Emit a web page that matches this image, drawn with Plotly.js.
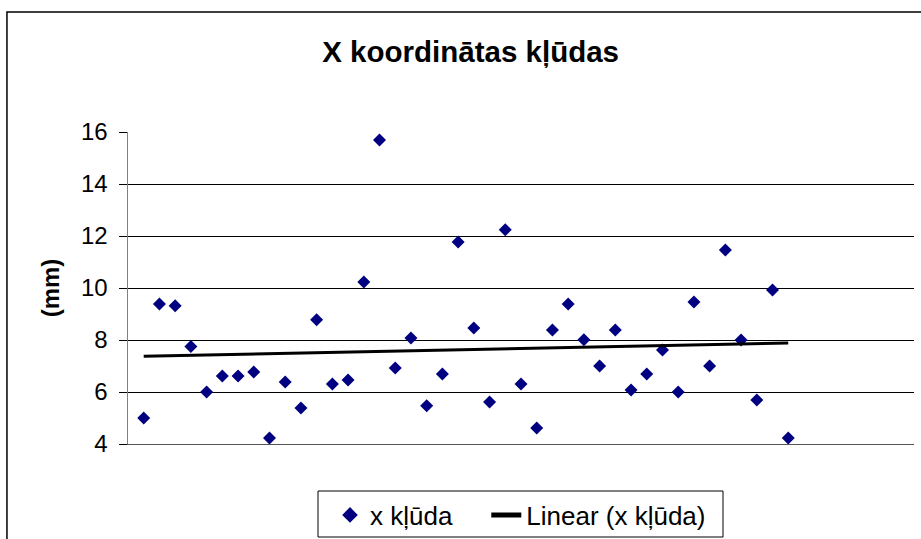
<!DOCTYPE html>
<html>
<head>
<meta charset="utf-8">
<script src="https://cdn.plot.ly/plotly-3.0.1.min.js"></script>
<style>html,body{margin:0;padding:0;background:#fff;}#chart{width:921px;height:539px;}</style>
</head>
<body>
<div id="chart"></div>
<script>
// Measurement index (1..42) and X coordinate error values (mm)
const pointIndex = [1,2,3,4,5,6,7,8,9,10,11,12,13,14,15,16,17,18,19,20,21,22,23,24,25,26,27,28,29,30,31,32,33,34,35,36,37,38,39,40,41,42];
const xErrors = [5.00,9.38,9.32,7.75,6.00,6.62,6.62,6.77,4.23,6.38,5.38,8.78,6.31,6.46,10.23,15.69,6.92,8.08,5.47,6.69,11.77,8.46,5.62,12.24,6.31,4.62,8.38,9.38,8.01,7.00,8.38,6.08,6.69,7.62,6.00,9.46,7.00,11.46,8.00,5.69,9.92,4.23];
const yTickVals = [4,6,8,10,12,14,16];
const yTickText = ["4","6","8","10","12","14","16"];
const seriesName = "x kļūda";
const trendName = "Linear (x kļūda)";
const chartTitle = "X koordinātas kļūdas";
const yTitle = "(mm)";

// Least-squares linear trendline from the data
const n = pointIndex.length;
let sx=0, sy=0, sxx=0, sxy=0;
for (let i=0;i<n;i++){ sx+=pointIndex[i]; sy+=xErrors[i]; sxx+=pointIndex[i]*pointIndex[i]; sxy+=pointIndex[i]*xErrors[i]; }
const slope = (n*sxy - sx*sy)/(n*sxx - sx*sx);
const intercept = (sy - slope*sx)/n;
const trendX = [pointIndex[0], pointIndex[n-1]];
const trendY = trendX.map(v => intercept + slope*v);

const font = "Liberation Sans, Arial, sans-serif";
const pad = "\u00a0\u00a0\u00a0\u00a0"; // legend spacing after first entry

const data = [
  {x: pointIndex, y: xErrors, type: 'scatter', mode: 'markers', name: seriesName + pad,
   marker: {symbol: 'diamond', size: 10, color: '#000080'}},
  {x: trendX, y: trendY, type: 'scatter', mode: 'lines', name: trendName,
   line: {color: '#000000', width: 3}}
];

// plot area in pixels: x 128..914, y 132..444
const px = v => (v - 128) / 786;
const py = v => (444 - v) / 312;

const layout = {
  width: 921, height: 539,
  margin: {l: 128, r: 7, t: 132, b: 95, autoexpand: false},
  paper_bgcolor: '#ffffff', plot_bgcolor: '#ffffff',
  font: {family: font, color: '#000', size: 24},
  title: {text: chartTitle, font: {family: font, size: 29.5, weight: 'bold', color: '#000'},
          xref: 'container', x: 0.511, xanchor: 'center', yref: 'container', y: 0.905, yanchor: 'middle'},
  xaxis: {range: [0, 50], showgrid: false, zeroline: false, showticklabels: false, ticks: '',
          showline: true, linecolor: '#555', linewidth: 1},
  yaxis: {range: [4, 16], tickvals: yTickVals, ticktext: yTickText, showgrid: true, gridcolor: '#000', gridwidth: 1,
          zeroline: false, showline: true, linecolor: '#808080', linewidth: 1.5,
          ticks: 'outside', ticklen: 8, tickcolor: '#000', tickwidth: 1,
          tickfont: {family: font, size: 24, color: '#000'}, ticklabelstandoff: 6,
          title: {text: yTitle, font: {family: font, size: 24, weight: 'bold', color: '#000'}, standoff: 14}},
  showlegend: true,
  legend: {orientation: 'h', x: px(330), xanchor: 'left', y: py(515), yanchor: 'middle',
           borderwidth: 0, bgcolor: 'rgba(0,0,0,0)',
           font: {family: font, size: 26, color: '#000'}, itemsizing: 'constant', traceorder: 'normal'},
  shapes: [
    {type: 'rect', xref: 'paper', yref: 'paper', x0: -0.1540, x1: 1.05, y0: -0.4, y1: 1.3846,
     line: {color: '#000', width: 1.5}, fillcolor: 'rgba(0,0,0,0)', layer: 'below'},
    {type: 'rect', xref: 'paper', yref: 'paper', x0: px(318), x1: px(723), y0: py(537), y1: py(491),
     line: {color: '#000', width: 1}, fillcolor: 'rgba(0,0,0,0)', layer: 'below'}
  ]
};

Plotly.newPlot('chart', data, layout, {displayModeBar: false, staticPlot: true});
</script>
</body>
</html>
